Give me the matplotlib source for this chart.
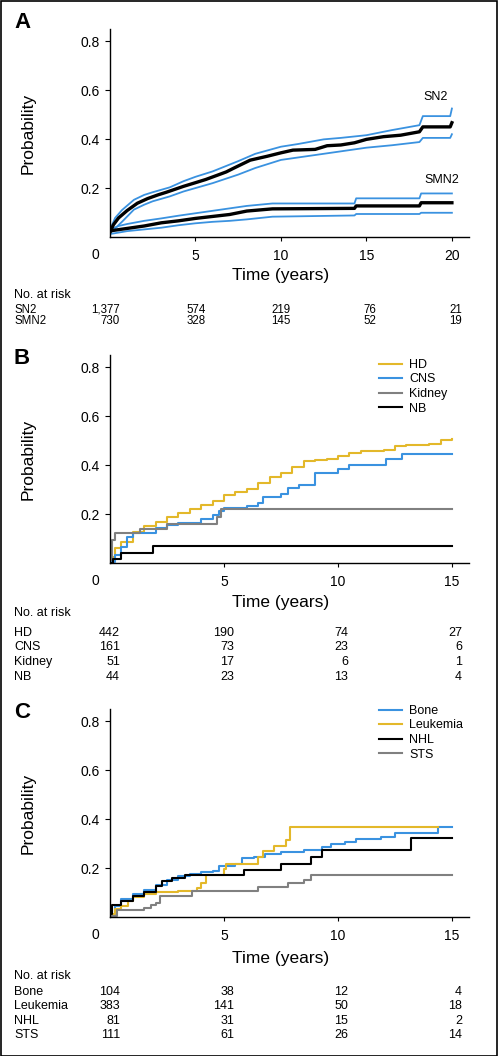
import matplotlib
matplotlib.use("Agg")
import matplotlib.pyplot as plt
import matplotlib.transforms as mtransforms
from matplotlib.patches import Rectangle

plt.rcParams['font.family'] = ['Liberation Sans', 'DejaVu Sans']

BLUE = '#3a92e0'
YELLOW = '#e3b82a'
GRAY = '#808080'

# ---- panel A: SN2 / SMN2 with confidence limits (many small events -> drawn as lines)
sn2_t = [0, 0.2, 0.5, 1.0, 1.6, 2.2, 2.8, 3.3, 3.8, 4.3, 5.0, 5.6, 6.3, 6.8, 7.2, 7.7,
         8.2, 8.7, 9.2, 10.0, 10.7, 12.0, 12.7, 13.5, 14.3, 15.0, 16.0, 17.0, 18.1,
         18.3, 19.9, 20.0]
sn2_p = [0.02, 0.05, 0.078, 0.108, 0.138, 0.157, 0.172, 0.183, 0.195, 0.207, 0.222,
         0.235, 0.253, 0.266, 0.28, 0.297, 0.314, 0.322, 0.33, 0.344, 0.355, 0.358,
         0.373, 0.376, 0.385, 0.399, 0.41, 0.416, 0.43, 0.45, 0.45, 0.467]
sn2_ci_t = [0, 0.3, 0.7, 1.4, 2.0, 2.5, 3.5, 4.3, 5.0, 6.0, 7.5, 8.5, 10.0, 11.0, 12.5,
            13.5, 15.0, 16.5, 18.1, 18.3, 19.9, 20.0]
sn2_hi = [0.03, 0.078, 0.11, 0.152, 0.172, 0.183, 0.203, 0.228, 0.246, 0.268, 0.31,
          0.34, 0.369, 0.38, 0.399, 0.405, 0.416, 0.437, 0.457, 0.494, 0.494, 0.525]
sn2_lo = [0.015, 0.035, 0.062, 0.112, 0.132, 0.146, 0.166, 0.186, 0.20, 0.22, 0.255,
          0.282, 0.315, 0.325, 0.34, 0.35, 0.365, 0.375, 0.388, 0.405, 0.405, 0.42]

smn2_t = [0, 0.5, 1.0, 2.0, 3.0, 4.0, 5.0, 6.0, 7.0, 8.0, 9.5, 14.3, 14.4, 18.1, 18.2,
          20.0]
smn2_p = [0.025, 0.03, 0.035, 0.045, 0.058, 0.066, 0.076, 0.084, 0.092, 0.106, 0.115,
          0.117, 0.127, 0.127, 0.14, 0.14]
smn2_hi = [0.03, 0.045, 0.053, 0.066, 0.076, 0.087, 0.097, 0.107, 0.117, 0.127, 0.137,
           0.137, 0.158, 0.158, 0.178, 0.178]
smn2_lo = [0.012, 0.018, 0.024, 0.031, 0.038, 0.048, 0.056, 0.062, 0.066, 0.072, 0.083,
           0.088, 0.094, 0.094, 0.099, 0.099]

risk_a_times = [0, 5, 10, 15, 20]
risk_a_labels = ['SN2', 'SMN2']
risk_a = [['1,377', '574', '219', '76', '21'],
          ['730', '328', '145', '52', '19']]

# ---- panel B: by first cancer
hd_t = [0, 0.2, 0.5, 1.0, 1.5, 2.0, 2.5, 3.0, 3.5, 4.0, 4.5, 5.0, 5.5, 6.0, 6.5, 7.0,
        7.5, 8.0, 8.5, 9.0, 9.5, 10.0, 10.5, 11.0, 12.0, 12.5, 13.0, 14.0, 14.5, 15.0]
hd_p = [0.026, 0.06, 0.087, 0.128, 0.151, 0.166, 0.189, 0.205, 0.22, 0.237, 0.254, 0.278,
        0.291, 0.302, 0.325, 0.35, 0.366, 0.393, 0.416, 0.42, 0.423, 0.437, 0.448, 0.457,
        0.461, 0.478, 0.484, 0.488, 0.502, 0.505]
cns_t = [0, 0.2, 0.5, 0.75, 1.0, 2.0, 2.5, 3.0, 4.0, 4.5, 4.8, 5.0, 6.0, 6.5, 6.7, 7.5,
         7.8, 8.3, 9.0, 10.0, 10.5, 12.1, 12.8, 15.0]
cns_p = [0.005, 0.033, 0.067, 0.107, 0.121, 0.141, 0.155, 0.162, 0.178, 0.196, 0.214,
         0.223, 0.233, 0.246, 0.268, 0.284, 0.305, 0.318, 0.366, 0.386, 0.40, 0.423,
         0.445, 0.445]
kidney_t = [0, 0.1, 0.2, 1.3, 2.5, 4.7, 4.85, 15.0]
kidney_p = [0.012, 0.094, 0.121, 0.137, 0.159, 0.19, 0.221, 0.221]
nb_t = [0, 0.15, 0.5, 1.9, 15.0]
nb_p = [0.0, 0.017, 0.04, 0.069, 0.069]

risk_b_times = [0, 5, 10, 15]
risk_b_labels = ['HD', 'CNS', 'Kidney', 'NB']
risk_b = [['442', '190', '74', '27'],
          ['161', '73', '23', '6'],
          ['51', '17', '6', '1'],
          ['44', '23', '13', '4']]

# ---- panel C
bone_t = [0, 0.2, 0.5, 1.0, 1.5, 2.0, 2.5, 3.0, 3.5, 4.0, 4.5, 4.8, 5.5, 5.8, 6.3, 6.8,
          7.5, 8.5, 9.3, 9.7, 10.3, 10.8, 11.9, 12.5, 14.4, 15.0]
bone_p = [0.0, 0.045, 0.072, 0.092, 0.112, 0.132, 0.15, 0.166, 0.176, 0.182, 0.186,
          0.207, 0.216, 0.24, 0.247, 0.258, 0.264, 0.274, 0.288, 0.299, 0.308, 0.318,
          0.328, 0.345, 0.366, 0.366]
leuk_t = [0, 0.2, 0.5, 0.8, 1.0, 1.5, 2.0, 3.0, 3.8, 4.0, 4.2, 5.0, 5.1, 6.5, 6.7, 7.2,
          7.7, 7.9, 14.4]
leuk_p = [0.011, 0.031, 0.045, 0.065, 0.082, 0.092, 0.101, 0.105, 0.119, 0.139, 0.173,
          0.196, 0.218, 0.247, 0.268, 0.291, 0.315, 0.369, 0.369]
nhl_t = [0, 0.1, 0.5, 1.0, 1.5, 2.0, 2.3, 2.7, 3.3, 5.9, 7.5, 8.8, 9.3, 13.2, 15.0]
nhl_p = [0.011, 0.047, 0.065, 0.085, 0.101, 0.126, 0.146, 0.16, 0.173, 0.193, 0.218,
         0.247, 0.272, 0.322, 0.322]
sts_t = [0, 0.3, 1.5, 1.8, 2.0, 2.2, 3.6, 6.5, 7.8, 8.5, 8.8, 15.0]
sts_p = [0.005, 0.027, 0.038, 0.047, 0.058, 0.085, 0.105, 0.122, 0.139, 0.153, 0.173,
         0.173]

risk_c_times = [0, 5, 10, 15]
risk_c_labels = ['Bone', 'Leukemia', 'NHL', 'STS']
risk_c = [['104', '38', '12', '4'],
          ['383', '141', '50', '18'],
          ['81', '31', '15', '2'],
          ['111', '61', '26', '14']]

W, H = 498, 1056
fig = plt.figure(figsize=(W / 100, H / 100), dpi=100)
fig.patches.append(Rectangle((0.5 / W, 0.5 / H), 1 - 1.5 / W, 1 - 1.5 / H,
                             transform=fig.transFigure, fill=False, lw=1.2,
                             edgecolor='black'))


def make_axes(top, bottom, xmax, xticks):
    # pixel positions measured on the reference
    ax = fig.add_axes([110 / W, 1 - bottom / H, (469 - 110) / W, (bottom - top) / H])
    ax.set_xlim(0, xmax)
    ax.set_ylim(0, 0.85)
    for s in ['top', 'right']:
        ax.spines[s].set_visible(False)
    for s in ['left', 'bottom']:
        ax.spines[s].set_linewidth(1.0)
    ax.set_yticks([0.2, 0.4, 0.6, 0.8])
    ax.set_yticklabels(['0.2', '0.4', '0.6', '0.8'])
    ax.set_xticks(xticks)
    ax.set_xticklabels([str(x) for x in xticks])
    ax.tick_params(axis='y', length=3.6, width=0.8, pad=3.5, labelsize=10)
    ax.tick_params(axis='x', length=3.0, width=0.8, pad=6, labelsize=10)
    ax.set_ylabel('Probability', fontsize=12.5)
    ax.yaxis.set_label_coords(-0.206, 0.5)
    ax.text(-0.04, -18 / (bottom - top), '0', transform=ax.transAxes, fontsize=10,
            ha='center', va='center')
    return ax


def risk_table(ax, xmid, time_y, head_y, row_ys, labels, times, rows, fs=9):
    tr = mtransforms.blended_transform_factory(ax.transData, fig.transFigure)
    fig.text(xmid, 1 - time_y / H, 'Time (years)', transform=tr, fontsize=12.5,
             ha='center', va='center')
    fig.text(14 / W, 1 - head_y / H, 'No. at risk', fontsize=9, va='center')
    tr_num = mtransforms.offset_copy(tr, fig=fig, x=10, y=0, units='dots')
    for lab, vals, ry in zip(labels, rows, row_ys):
        fig.text(14 / W, 1 - ry / H, lab, fontsize=fs, va='center')
        for t, v in zip(times, vals):
            fig.text(t, 1 - ry / H, v, transform=tr_num, fontsize=fs, ha='right',
                     va='center')


# panel A
axA = make_axes(29, 237, 21, [5, 10, 15, 20])
for p in [sn2_hi, sn2_lo]:
    axA.plot(sn2_ci_t, p, color=BLUE, lw=1.3)
for p in [smn2_hi, smn2_lo]:
    axA.plot(smn2_t, p, color=BLUE, lw=1.3)
axA.plot(sn2_t, sn2_p, color='black', lw=2.4)
axA.plot(smn2_t, smn2_p, color='black', lw=2.4)
axA.text(19.06, 0.571, 'SN2', fontsize=9, ha='center', va='center')
axA.text(19.4, 0.233, 'SMN2', fontsize=9, ha='center', va='center')
risk_table(axA, 10, 275, 295, [310, 321], risk_a_labels, risk_a_times, risk_a, fs=8.3)

# panel B
axB = make_axes(355, 563, 15.75, [5, 10, 15])
axB.plot(hd_t, hd_p, drawstyle='steps-post', color=YELLOW, lw=1.5, label='HD')
axB.plot(cns_t, cns_p, drawstyle='steps-post', color=BLUE, lw=1.5, label='CNS')
axB.plot(kidney_t, kidney_p, drawstyle='steps-post', color=GRAY, lw=1.5, label='Kidney')
axB.plot(nb_t, nb_p, drawstyle='steps-post', color='black', lw=1.5, label='NB')
axB.legend(loc='upper left', bbox_to_anchor=(379 / W, 1 - 359 / H),
           bbox_transform=fig.transFigure, frameon=False, fontsize=9, borderpad=0,
           borderaxespad=0, handlelength=1.85, handletextpad=0.55, labelspacing=0.2)
risk_table(axB, 7.5, 603, 613, [633, 647.5, 662, 677], risk_b_labels, risk_b_times, risk_b)

# panel C
axC = make_axes(709, 917, 15.75, [5, 10, 15])
axC.plot(bone_t, bone_p, drawstyle='steps-post', color=BLUE, lw=1.5, label='Bone')
axC.plot(leuk_t, leuk_p, drawstyle='steps-post', color=YELLOW, lw=1.5, label='Leukemia')
axC.plot(nhl_t, nhl_p, drawstyle='steps-post', color='black', lw=1.5, label='NHL')
axC.plot(sts_t, sts_p, drawstyle='steps-post', color=GRAY, lw=1.5, label='STS')
axC.legend(loc='upper left', bbox_to_anchor=(379 / W, 1 - 705 / H),
           bbox_transform=fig.transFigure, frameon=False, fontsize=9, borderpad=0,
           borderaxespad=0, handlelength=1.85, handletextpad=0.55, labelspacing=0.2)
risk_table(axC, 7.5, 958, 976, [992, 1006, 1020.5, 1035], risk_c_labels, risk_c_times,
           risk_c)

# panel letters
for letter, y in [('A', 23), ('B', 358), ('C', 712)]:
    fig.text(22 / W, 1 - y / H, letter, fontsize=16, fontweight='bold', ha='center',
             va='center')

fig.savefig('out.png', dpi=100)
